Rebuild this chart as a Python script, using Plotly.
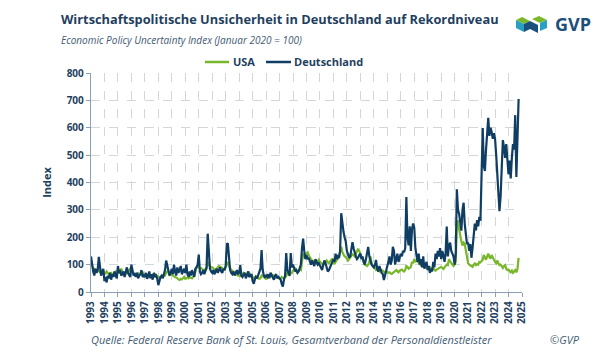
import pandas as pd
import plotly.graph_objects as go

# Monthly values, Jan 1993 - Oct 2024 (Januar 2020 = 100)
usa = [
    105, 95, 88, 84, 80, 78, 82, 76, 72, 70, 78, 74,      # 1993
    72, 68, 75, 70, 65, 68, 70, 64, 66, 72, 75, 68,       # 1994
    72, 70, 80, 85, 74, 70, 68, 66, 70, 72, 80, 85,       # 1995
    78, 70, 66, 62, 60, 65, 68, 62, 64, 70, 72, 65,       # 1996
    62, 60, 58, 60, 55, 58, 55, 56, 58, 66, 62, 58,       # 1997
    55, 52, 54, 56, 55, 58, 60, 70, 75, 72, 62, 64,       # 1998
    66, 60, 58, 56, 52, 50, 46, 44, 48, 46, 50, 55,       # 1999
    48, 50, 52, 50, 55, 52, 50, 56, 60, 72, 90, 95,       # 2000
    92, 85, 88, 84, 80, 82, 78, 85, 110, 100, 95, 90,     # 2001
    90, 85, 82, 80, 85, 88, 95, 92, 90, 88, 80, 82,       # 2002
    92, 100, 110, 95, 85, 80, 78, 72, 70, 68, 62, 60,     # 2003
    60, 58, 62, 66, 70, 64, 62, 60, 65, 70, 62, 58,       # 2004
    55, 52, 54, 56, 52, 50, 48, 50, 60, 58, 54, 50,       # 2005
    48, 50, 52, 56, 60, 58, 62, 55, 52, 56, 54, 50,       # 2006
    48, 50, 55, 52, 50, 54, 58, 70, 65, 62, 68, 70,       # 2007
    78, 80, 85, 75, 72, 78, 82, 80, 120, 140, 125, 130,   # 2008
    140, 145, 135, 125, 120, 115, 110, 112, 108, 104, 112, 118,  # 2009
    110, 105, 100, 98, 104, 110, 115, 108, 105, 112, 118, 122,   # 2010
    108, 102, 110, 115, 120, 128, 150, 165, 145, 135, 130, 128,  # 2011
    118, 115, 120, 125, 130, 138, 135, 130, 140, 150, 158, 150,  # 2012
    140, 125, 118, 110, 100, 98, 95, 100, 110, 130, 105, 98,     # 2013
    90, 88, 80, 82, 78, 75, 76, 80, 78, 74, 70, 72,       # 2014
    74, 70, 72, 68, 66, 70, 72, 76, 80, 75, 72, 78,       # 2015
    80, 82, 78, 75, 80, 95, 92, 85, 88, 92, 110, 105,     # 2016
    120, 112, 115, 110, 105, 100, 98, 95, 100, 92, 90, 86,  # 2017
    84, 82, 90, 88, 84, 86, 80, 78, 82, 85, 88, 90,       # 2018
    92, 88, 84, 90, 95, 100, 98, 120, 112, 105, 100, 95,  # 2019
    100, 110, 250, 262, 230, 200, 185, 170, 180, 175, 150, 130,  # 2020
    105, 100, 98, 95, 92, 100, 104, 98, 102, 100, 110, 108,      # 2021
    112, 118, 135, 125, 118, 130, 140, 128, 122, 135, 125, 118,  # 2022
    110, 105, 115, 105, 98, 100, 92, 88, 95, 98, 85, 80,  # 2023
    82, 76, 72, 78, 70, 75, 80, 72, 85, 125,              # 2024
]

deutschland = [
    130, 95, 75, 60, 85, 70, 80, 128, 90, 60, 70, 85,     # 1993
    40, 55, 35, 60, 50, 70, 45, 65, 55, 75, 60, 50,       # 1994
    95, 70, 80, 60, 65, 75, 55, 80, 90, 70, 60, 55,       # 1995
    100, 75, 60, 65, 55, 70, 50, 60, 65, 80, 55, 60,      # 1996
    55, 70, 48, 60, 75, 50, 65, 45, 70, 55, 60, 50,       # 1997
    25, 40, 55, 60, 50, 65, 80, 115, 95, 75, 60, 70,      # 1998
    85, 65, 100, 75, 60, 90, 70, 80, 95, 65, 75, 85,      # 1999
    70, 100, 65, 55, 75, 60, 80, 70, 55, 85, 90, 100,     # 2000
    137, 75, 65, 70, 80, 65, 75, 90, 213, 120, 85, 75,    # 2001
    70, 80, 65, 75, 85, 70, 80, 90, 75, 70, 85, 80,       # 2002
    95, 175, 178, 110, 80, 70, 65, 75, 60, 70, 80, 65,    # 2003
    70, 98, 60, 55, 65, 70, 50, 60, 75, 55, 60, 65,       # 2004
    40, 30, 45, 55, 50, 60, 70, 85, 153, 80, 60, 55,      # 2005
    60, 55, 65, 50, 70, 60, 55, 45, 60, 65, 50, 55,       # 2006
    50, 45, 30, 20, 45, 60, 142, 80, 70, 60, 142, 90,     # 2007
    100, 85, 75, 80, 70, 75, 90, 100, 160, 195, 150, 120, # 2008
    135, 120, 125, 110, 100, 115, 105, 95, 120, 110, 100, 105,   # 2009
    95, 90, 80, 100, 115, 105, 85, 75, 80, 90, 95, 110,   # 2010
    120, 110, 140, 120, 130, 125, 150, 288, 240, 220, 200, 185,  # 2011
    150, 135, 125, 130, 150, 182, 160, 140, 130, 120, 125, 135,  # 2012
    140, 120, 130, 110, 100, 120, 140, 165, 130, 110, 100, 95,   # 2013
    90, 100, 117, 85, 75, 95, 80, 70, 65, 44, 60, 85,     # 2014
    95, 110, 130, 100, 115, 165, 150, 100, 120, 140, 110, 130,   # 2015
    140, 130, 150, 145, 160, 347, 200, 170, 240, 150, 230, 250,  # 2016
    235, 160, 130, 110, 140, 100, 120, 90, 130, 85, 100, 110,    # 2017
    80, 95, 70, 85, 75, 110, 90, 140, 120, 150, 130, 160,        # 2018
    120, 150, 135, 110, 140, 239, 130, 170, 180, 150, 140, 130,  # 2019
    100, 140, 375, 300, 286, 250, 224, 300, 326, 249, 200, 175,  # 2020
    180, 150, 175, 125, 160, 200, 250, 225, 263, 240, 274, 260,  # 2021
    449, 599, 461, 442, 520, 585, 636, 570, 600, 585, 560, 580,  # 2022
    560, 500, 430, 370, 295, 350, 470, 555, 530, 490, 540, 470,  # 2023
    430, 480, 415, 490, 540, 520, 646, 420, 560, 705,            # 2024
]

series_names = ["USA", "Deutschland"]
months = pd.date_range("1993-01-01", periods=len(deutschland), freq="MS")
year_ticks = pd.date_range("1993-01-01", "2025-01-01", freq="YS")
year_labels = [str(d.year) for d in year_ticks]

GREEN = "#78b62a"
NAVY = "#0f3d63"
TEXT = "#1f3f5f"
SUB = "#3f5a73"
GRID = "#d3d7db"
AXIS = "#8ca0b3"
FONT = "Open Sans"

# plot area in pixels
L, R, T, B = 91, 522, 73, 292
W, H = 605, 357

def px(x):
    return (x - L) / (R - L)

def py(y):
    return (B - y) / (B - T)

fig = go.Figure()
fig.add_trace(go.Scatter(x=months, y=usa, name=series_names[0], mode="lines",
                         line=dict(color=GREEN, width=2.2)))
fig.add_trace(go.Scatter(x=months, y=deutschland, name=series_names[1], mode="lines",
                         line=dict(color=NAVY, width=2.2)))

fig.update_layout(
    width=W, height=H,
    margin=dict(l=L, r=W - R, t=T, b=H - B, autoexpand=False),
    paper_bgcolor="white", plot_bgcolor="white",
    font=dict(family=FONT, color=TEXT, size=10),
    showlegend=False,
    hovermode=False,
    xaxis=dict(type="date", range=["1993-01-01", "2025-01-01"], automargin=False,
               tickmode="array", tickvals=year_ticks, ticktext=year_labels,
               tickangle=-90, tickfont=dict(family=FONT, size=10, color=TEXT, weight="bold"),
               showgrid=True, gridcolor=GRID, griddash="dash", gridwidth=1,
               showline=True, linecolor=AXIS, linewidth=1.2,
               ticks="outside", ticklen=4, tickcolor=AXIS, zeroline=False),
    yaxis=dict(range=[0, 800], dtick=100, tick0=0, automargin=False,
               tickfont=dict(family=FONT, size=10, color=TEXT, weight="bold"),
               showgrid=True, gridcolor=GRID, griddash="dash", gridwidth=1,
               showline=True, linecolor=AXIS, linewidth=1.2,
               ticks="outside", ticklen=4, tickcolor=AXIS, zeroline=False,
               title=dict(text="Index", standoff=12,
                          font=dict(family=FONT, size=11, color=TEXT, weight="bold"))),
)

annotations = [
    dict(text="<b>Wirtschaftspolitische Unsicherheit in Deutschland auf Rekordniveau</b>",
         x=px(59), y=py(19), xanchor="left", yanchor="middle",
         font=dict(family=FONT, size=12.8, color=TEXT)),
    dict(text="<i>Economic Policy Uncertainty Index (Januar 2020 = 100)</i>",
         x=px(59), y=py(40), xanchor="left", yanchor="middle",
         font=dict(family=FONT, size=10, color=SUB)),
    dict(text="<i>Quelle: Federal Reserve Bank of St. Louis, Gesamtverband der Personaldienstleister</i>",
         x=px(89), y=py(339), xanchor="left", yanchor="middle",
         font=dict(family=FONT, size=11, color=SUB)),
    dict(text="<i>©GVP</i>",
         x=px(548), y=py(339), xanchor="left", yanchor="middle",
         font=dict(family=FONT, size=11, color=SUB)),
    dict(text="<b>GVP</b>",
         x=px(553), y=py(24), xanchor="left", yanchor="middle",
         font=dict(family=FONT, size=18, color="#1d4f7c")),
    # legend labels
    dict(text="<b>" + series_names[0] + "</b>",
         x=px(231), y=py(62), xanchor="left", yanchor="middle",
         font=dict(family=FONT, size=11, color=TEXT)),
    dict(text="<b>" + series_names[1] + "</b>",
         x=px(292), y=py(62), xanchor="left", yanchor="middle",
         font=dict(family=FONT, size=11, color=TEXT)),
]
for a in annotations:
    a.update(xref="paper", yref="paper", showarrow=False)
fig.update_layout(annotations=annotations)

# GVP logo (ribbon pieces) in paper coordinates
def poly(points, color):
    d = "M " + " L ".join(f"{px(x)},{py(y)}" for x, y in points) + " Z"
    return dict(type="path", path=d, xref="paper", yref="paper",
                fillcolor=color, line=dict(width=0), layer="above")

def seg(x0, x1, y, color):
    return dict(type="line", xref="paper", yref="paper",
                x0=px(x0), x1=px(x1), y0=py(y), y1=py(y),
                line=dict(color=color, width=2.5))

shapes = [
    # left block: green top, cyan side
    poly([(516, 20), (522, 17), (530, 21), (524, 24)], "#7ab829"),
    poly([(516, 20), (524, 24), (524, 32), (516, 28)], "#2a9fc4"),
    # diagonal dark ribbon
    poly([(524, 24), (530, 21), (538, 25), (538, 33), (530, 29), (524, 32)], "#1d4f7c"),
    # right block: green top, cyan side
    poly([(532, 19), (539, 16), (547, 20), (540, 23)], "#7ab829"),
    poly([(540, 23), (547, 20), (547, 28), (540, 31)], "#2a9fc4"),
    # legend lines
    seg(205, 229, 62, GREEN),
    seg(266, 291, 62, NAVY),
]
fig.update_layout(shapes=shapes)

fig.write_html("out.html", config={"displayModeBar": False, "staticPlot": True},
               post_script="document.body.style.margin='0';document.body.style.overflow='hidden';")
